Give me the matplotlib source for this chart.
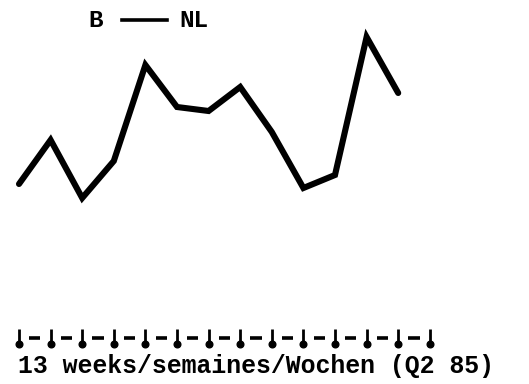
import matplotlib
matplotlib.use("Agg")
import matplotlib.pyplot as plt
import numpy as np

# Weekly index, Belgium -> Netherlands, Q2 1985 (13 weeks)
weeks = list(range(1, 14))
values = [16, 60, 2, 39, 135, 93, 89, 113, 68, 12, 25, 163, 107]
title_left = "B"
title_right = "NL"
xlabel = "13 weeks/semaines/Wochen (Q2 85)"

W, H, DPI = 529, 384, 100
fig = plt.figure(figsize=(W / DPI, H / DPI), dpi=DPI)
ax = fig.add_axes([0, 0, 1, 1])
ax.set_axis_off()

# pixel-like layout: x step per week, y measured upward from a baseline
x0, step = 19, 31.6
ax.set_xlim((0 - x0) / step + 1, (W - x0) / step + 1)
ax.set_ylim(-184, 200)

ink = "#000000"
mono = ["Liberation Mono", "DejaVu Sans Mono"]

ax.plot(weeks, values, color=ink, lw=4.4, solid_joinstyle="miter",
        solid_capstyle="round")

# typewriter-style week ruler: 14 marks with dashes between them
marks = np.arange(1, len(weeks) + 2)
ax.vlines(marks, -143, -129, color=ink, lw=2.0)
ax.plot(marks, np.full(len(marks), -144), "o", color=ink, ms=4.8)
for m in marks[:-1]:
    ax.plot([m + 0.32, m + 0.68], [-138, -138], color=ink, lw=2.6,
            solid_capstyle="butt")

ax.text(1 - 1 / step, -173, xlabel, fontfamily=mono, fontweight="bold",
        fontsize=17.9, ha="left", va="baseline", color=ink)

# series caption
ax.text(1 + 69 / step, 173, title_left, fontfamily=mono, fontweight="bold",
        fontsize=17.5, ha="left", va="baseline", color=ink)
ax.plot([1 + 103 / step, 1 + 148 / step], [180, 180], color=ink, lw=2.6)
ax.text(1 + 160 / step, 173, title_right, fontfamily=mono, fontweight="bold",
        fontsize=17.5, ha="left", va="baseline", color=ink)

fig.savefig("out.png", dpi=DPI, facecolor="white")
